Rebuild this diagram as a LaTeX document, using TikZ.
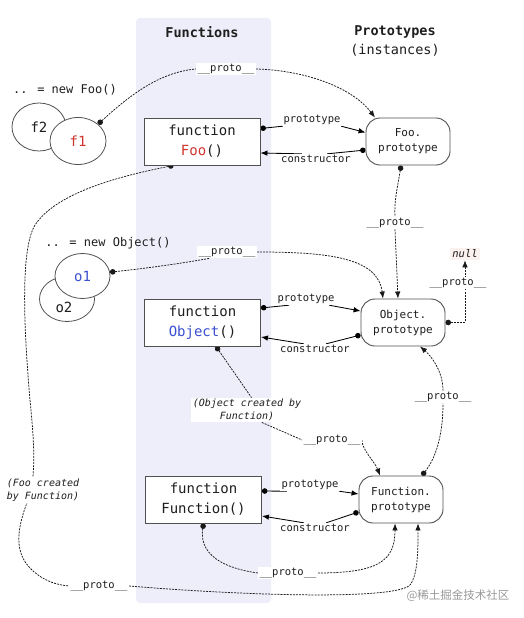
\documentclass[tikz,border=0pt]{standalone}
\usepackage{fontspec}
\setmainfont{DejaVu Sans Mono}
\newfontfamily\cjk{Noto Sans CJK SC}
\usetikzlibrary{arrows.meta,shapes.geometric}
\pgfdeclarelayer{back}
\pgfdeclarelayer{lines}
\pgfsetlayers{back,lines,main}
\definecolor{band}{HTML}{EEEEFB}
\definecolor{fred}{HTML}{D0342C}
\definecolor{oblue}{HTML}{3A4FD0}
\definecolor{nullbg}{HTML}{FBF1EF}
\definecolor{edge}{HTML}{505050}
\definecolor{ink}{HTML}{1E1E1E}
\newcommand\protoname{\_\_proto\_\_}
\begin{document}
\begin{tikzpicture}[x=1pt,y=-1pt,
  every node/.style={text=ink},
  lk/.style={draw=black!90, line width=0.75pt, dash pattern=on 2pt off 1.1pt},
  rl/.style={draw=black, line width=0.85pt},
  dt/.style={arrows={Circle[length=5.5pt]-}},
  ar/.style={arrows={-Latex[length=7pt,width=5.5pt]}},
  da/.style={arrows={Circle[length=5.5pt]-Latex[length=7pt,width=5.5pt]}},
  lbl/.style={fill=white, inner sep=1.2pt, font=\fontsize{10.5}{12}\selectfont},
  ilbl/.style={fill=white, inner sep=1.5pt, align=center, font=\itshape\fontsize{10}{12.5}\selectfont},
  head/.style={font=\bfseries\fontsize{13.5}{16}\selectfont},
  plain/.style={font=\fontsize{12}{14}\selectfont},
  fnbox/.style={draw=edge, line width=0.9pt, fill=white, minimum width=116pt, minimum height=47pt, align=center, font=\fontsize{14}{20}\selectfont, inner sep=0pt},
  protobox/.style={draw=edge, line width=0.9pt, fill=white, rounded corners=14pt, minimum width=84pt, minimum height=47pt, align=center, font=\fontsize{11}{15}\selectfont, inner sep=0pt},
  inst/.style={draw=edge, line width=0.8pt, fill=white, ellipse, inner sep=0pt, font=\fontsize{14}{16}\selectfont}
]
\useasboundingbox (0,0) rectangle (523,618);
\begin{pgfonlayer}{back}
\fill[white] (0,0) rectangle (523,618);
\fill[band, rounded corners=4pt] (136,18) rectangle (271,603);
\end{pgfonlayer}

% headers
\node[head] (hf) at (202,32) {Functions};
\node[head] (hp) at (395,32) {Prototypes};
\node[font=\fontsize{13.5}{16}\selectfont] (hi) at (395,50) {(instances)};

% instances
\node[plain] (nfoo) at (65,90) {.. = new Foo()};
\node[inst, minimum width=54pt, minimum height=48pt] (f2) at (39,127) {f2};
\node[inst, minimum width=56pt, minimum height=47pt, text=fred] (f1) at (78,141) {f1};
\node[plain] (nobj) at (108,243) {.. = new Object()};
\node[inst, minimum width=55pt, minimum height=45pt] (o2) at (67,299) {};
\node[font=\fontsize{14}{16}\selectfont] (o2t) at (64,307) {o2};
\node[inst, minimum width=55pt, minimum height=45pt, text=oblue] (o1) at (82.5,276) {o1};

% function boxes
\node[fnbox] (foo) at (202,141.5) {function\\\textcolor{fred}{Foo}()};
\node[fnbox] (obj) at (202.5,322.5) {function\\\textcolor{oblue}{Object}()};
\node[fnbox] (fn) at (203.5,499.5) {function\\Function()};

% prototype boxes
\node[protobox] (fooP) at (408,141.5) {Foo.\\prototype};
\node[protobox] (objP) at (403,322.5) {Object.\\prototype};
\node[protobox] (fnP) at (401,499.5) {Function.\\prototype};

% relation labels
\node[lbl] (p1) at (312,120) {prototype};
\node[lbl] (c1) at (316,159) {constructor};
\node[lbl] (p2) at (306,299) {prototype};
\node[lbl] (c2) at (315,349) {constructor};
\node[lbl] (p3) at (310,485) {prototype};
\node[lbl] (c3) at (315,528) {constructor};

% proto labels
\node[lbl] (pr1) at (226,69) {\protoname};
\node[lbl] (pr2) at (227,252) {\protoname};
\node[lbl] (pr4) at (395,223) {\protoname};
\node[lbl] (prn) at (458,283) {\protoname};
\node[fill=nullbg, inner sep=2pt, font=\itshape\fontsize{10.5}{12}\selectfont] (null) at (465,254) {null};
\node[ilbl] (oc) at (247,410) {(Object created by\\Function)};
\node[lbl] (pr5) at (332,440) {\protoname};
\node[lbl] (pr6) at (443,397) {\protoname};
\node[lbl] (pr7) at (288,573) {\protoname};
\node[ilbl] (fc) at (43,490) {(Foo created\\by Function)};
\node[lbl] (pr8) at (99,586) {\protoname};

\node[text=black!40, font=\cjk\fontsize{11.5}{13}\selectfont] (wm) at (458,596) {@稀土掘金技术社区};

\begin{pgfonlayer}{lines}
% prototype / constructor relations
\draw[rl,dt] ([yshift=13pt]foo.east) -- (p1.192);
\draw[rl,ar] (p1.-12) -- ([yshift=9pt]fooP.west);
\draw[rl,dt] ([yshift=-8.5pt]fooP.west) -- (c1.25);
\draw[rl,ar] (c1.160) -- ([yshift=-11.5pt]foo.east);

\draw[rl,dt] ([yshift=14.5pt]obj.east) -- (p2.200);
\draw[rl,ar] (p2.-15) -- ([yshift=11.5pt]objP.west);
\draw[rl,dt] ([yshift=-12.5pt]objP.west) -- (c2.25);
\draw[rl,ar] (c2.155) -- ([yshift=-14.5pt]obj.east);

\draw[rl,dt] ([yshift=8.5pt]fn.east) -- (p3.195);
\draw[rl,ar] (p3.-12) -- ([yshift=5.5pt]fnP.west);
\draw[rl,dt] ([yshift=-12.5pt]fnP.west) -- (c3.25);
\draw[rl,ar] (c3.155) -- ([yshift=-16.5pt]fn.east);

% f1 -> Foo.prototype
\draw[lk,dt] (f1.40) .. controls (130,95) and (160,72) .. (pr1.west);
\draw[lk,ar] (pr1.east) .. controls (300,70) and (350,85) .. (fooP.144);

% Foo.prototype -> Object.prototype
\draw[lk,dt] ([xshift=-7pt]fooP.south) .. controls (398,185) and (394,200) .. (pr4.north);
\draw[lk,ar] (pr4.south) -- ([xshift=-5pt]objP.north);

% o1 -> Object.prototype
\draw[lk,dt] (o1.8) .. controls (150,268) and (190,262) .. (pr2.200);
\draw[lk,ar] (pr2.east) .. controls (330,252) and (378,258) .. ([xshift=-20pt]objP.north);

% Object.prototype -> null
\draw[lk,da] (objP.east) -| (null.south);

% Object -> Function.prototype
\draw[lk,dt] ([xshift=13.5pt]obj.south) -- (oc.70);
\draw[lk] (oc.-40) -- (pr5.west);
\draw[lk,ar] (pr5.east) .. controls (362,450) and (375,462) .. ([xshift=-21pt]fnP.north);

% Function.prototype -> Object.prototype
\draw[lk,dt] ([xshift=21pt]fnP.north) .. controls (438,455) and (443,430) .. (pr6.south);
\draw[lk,ar] (pr6.north) .. controls (443,370) and (430,355) .. ([xshift=17pt]objP.south);

% Function -> Function.prototype
\draw[lk,dt] (fn.south) .. controls (198,560) and (235,570) .. (pr7.west);
\draw[lk,ar] (pr7.east) .. controls (380,573) and (395,560) .. ([xshift=-6pt]fnP.south);

% Foo -> Function.prototype
\draw[lk,dt] ([xshift=-28.5pt]foo.south) .. controls (110,178) and (55,195) .. (35,225)
  .. controls (20,250) and (24,330) .. (30,400)
  .. controls (34,440) and (36,470) .. (30,495)
  .. controls (20,520) and (10,550) .. (32,570)
  .. controls (45,582) and (58,585) .. (pr8.west);
\draw[lk,ar] (pr8.east) .. controls (250,596) and (395,600) .. (410,585)
  .. controls (418,575) and (418,550) .. ([xshift=17pt]fnP.south);
\end{pgfonlayer}
\end{tikzpicture}
\end{document}
